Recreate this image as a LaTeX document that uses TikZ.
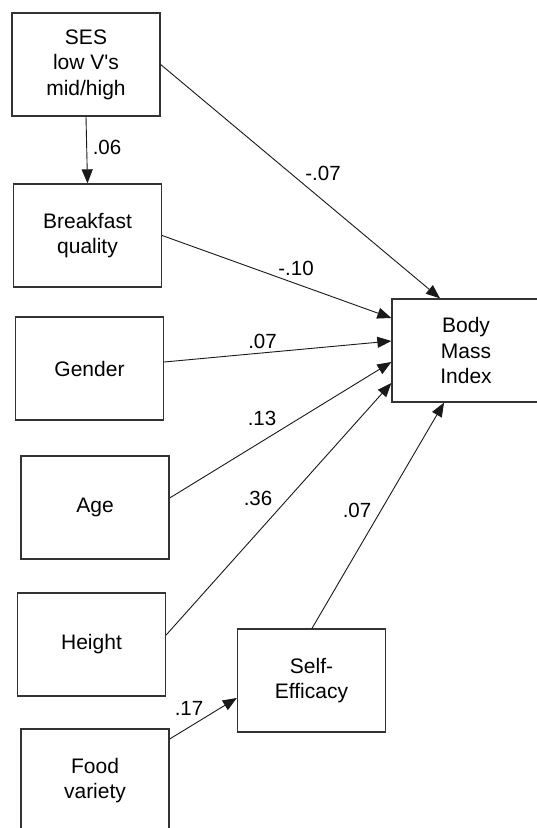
\documentclass[tikz,border=0pt]{standalone}
\usepackage{fontspec}
\setmainfont{Liberation Sans}[Ligatures=TeXOff]
\usetikzlibrary{arrows.meta}
\tikzset{
  varbox/.style={draw=black!80, line width=1.3pt, fill=white, minimum width=148pt, minimum height=103pt,
    inner sep=0pt, align=center, font=\fontsize{21}{25.5}\selectfont},
  path/.style={draw=black!90, line width=0.9pt, -{Triangle[length=14pt,width=11pt]}},
  coef/.style={font=\fontsize{20.5}{24}\selectfont, inner sep=0pt}
}
\begin{document}
\begin{tikzpicture}[x=1pt,y=-1pt]
\useasboundingbox (0,0) rectangle (537,828);
\clip (0,0) rectangle (537,828);
\fill[white] (0,0) rectangle (537,828);
\node[varbox] (ses) at (86,64.5) {SES\\low V's\\mid/high};
\node[varbox] (bq) at (87.5,235.5) {Breakfast\\quality};
\node[varbox] (gen) at (89.5,368.5) {Gender};
\node[varbox] (age) at (95,507.5) {Age};
\node[varbox] (hei) at (91.5,644.5) {Height};
\node[varbox] (food) at (95,780.5) {Food\\variety};
\node[varbox] (se) at (311.5,680.5) {Self-\\Efficacy};
\node[varbox] (bmi) at (466,350.5) {Body\\Mass\\Index};
\draw[path] (ses.south) -- (bq.north);
\draw[path] (ses.east) -- ([xshift=-26pt]bmi.north);
\draw[path] (bq.east) -- ([yshift=32.5pt]bmi.west);
\draw[path] ([yshift=6.5pt]gen.east) -- ([yshift=9.5pt]bmi.west);
\draw[path] ([yshift=9.5pt]age.east) -- ([yshift=-11.5pt]bmi.west);
\draw[path] ([yshift=9.5pt]hei.east) -- ([yshift=-32.5pt]bmi.west);
\draw[path] ([xshift=0.5pt]se.north) -- ([xshift=-22pt]bmi.south);
\draw[path] ([yshift=41.5pt]food.east) -- ([yshift=-17.5pt]se.west);
\node[coef] (l1) at (107,147) {.06};
\node[coef] (l2) at (323,173) {-.07};
\node[coef] (l3) at (296,268) {-.10};
\node[coef] (l4) at (262.5,341) {.07};
\node[coef] (l5) at (262,418) {.13};
\node[coef] (l6) at (258,498) {.36};
\node[coef] (l7) at (357,510) {.07};
\node[coef] (l8) at (189,708) {.17};
\end{tikzpicture}
\end{document}
